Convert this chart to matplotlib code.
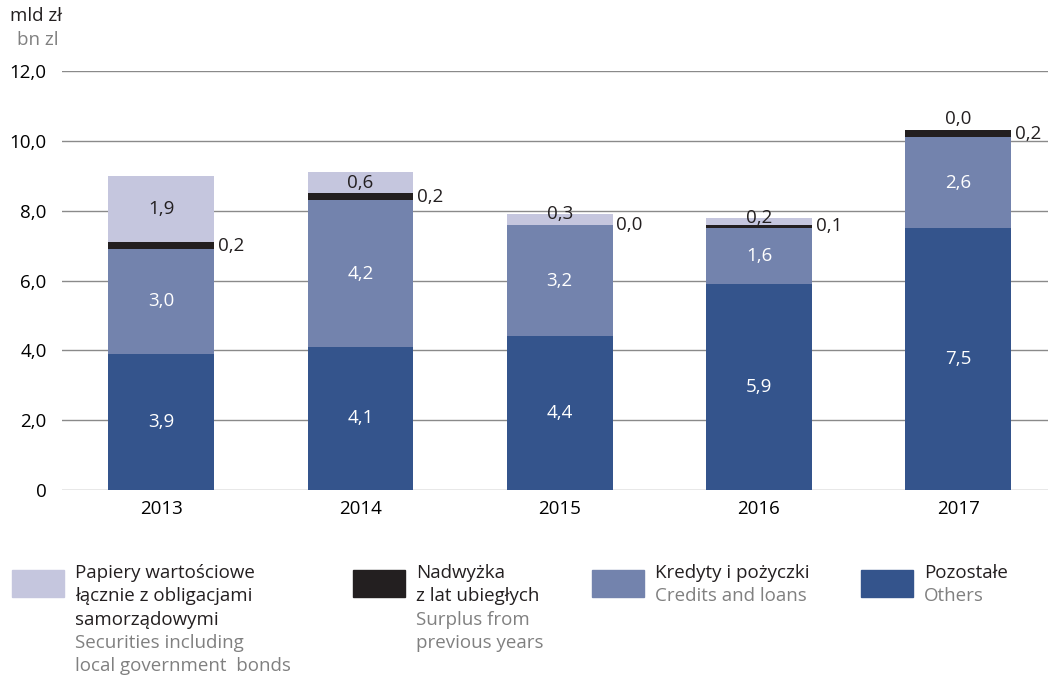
import matplotlib.pyplot as plt
import matplotlib.patches as mpatches
import numpy as np

plt.rcParams['font.family'] = ['Open Sans', 'DejaVu Sans']

years = ['2013', '2014', '2015', '2016', '2017']
others = [3.9, 4.1, 4.4, 5.9, 7.5]
credits = [3.0, 4.2, 3.2, 1.6, 2.6]
surplus = [0.2, 0.2, 0.0, 0.1, 0.2]
securities = [1.9, 0.6, 0.3, 0.2, 0.0]
yticks = [0, 2, 4, 6, 8, 10, 12]
ytick_labels = ['0', '2,0', '4,0', '6,0', '8,0', '10,0', '12,0']

c_sec = '#c5c6de'
c_sur = '#231f20'
c_cre = '#7383ad'
c_oth = '#34548c'
grey_txt = '#808080'

def fmt(v):
    return f'{v:.1f}'.replace('.', ',')

fig = plt.figure(figsize=(10.48, 6.78), dpi=100)
ax = fig.add_axes([62/1048, 1 - 490/678, 1 - 62/1048, 419/678])

x = np.arange(len(years))
w = 0.53
oth = np.array(others)
cre = np.array(credits)
sur = np.array(surplus)
sec = np.array(securities)

ax.bar(x, oth, w, color=c_oth, zorder=3)
ax.bar(x, cre, w, bottom=oth, color=c_cre, zorder=3)
ax.bar(x, sur, w, bottom=oth + cre, color=c_sur, zorder=3)
ax.bar(x, sec, w, bottom=oth + cre + sur, color=c_sec, zorder=3)

fs = 13.5
for i in range(len(years)):
    ax.text(x[i], oth[i] / 2, fmt(oth[i]), ha='center', va='center', color='white', fontsize=fs, zorder=4)
    ax.text(x[i], oth[i] + cre[i] / 2, fmt(cre[i]), ha='center', va='center', color='white', fontsize=fs, zorder=4)
    ax.text(x[i] + w / 2 + 0.02, oth[i] + cre[i] + sur[i] / 2, fmt(sur[i]), ha='left', va='center',
            color='#231f20', fontsize=fs, zorder=4)
    b = oth[i] + cre[i] + sur[i]
    if sec[i] >= 0.5:
        ax.text(x[i], b + sec[i] / 2, fmt(sec[i]), ha='center', va='center', color='#231f20', fontsize=fs, zorder=4)
    elif sec[i] > 0:
        ax.text(x[i], b + sec[i], fmt(sec[i]), ha='center', va='center', color='#231f20', fontsize=fs, zorder=4)
    else:
        ax.text(x[i], b + 0.08, fmt(sec[i]), ha='center', va='bottom', color='#231f20', fontsize=fs, zorder=4)

ax.set_xlim(-0.497, 4.45)
ax.set_ylim(0, 12)
ax.set_yticks(yticks)
ax.set_yticklabels(ytick_labels, fontsize=fs)
ax.set_xticks(x)
ax.set_xticklabels(years, fontsize=fs)
ax.tick_params(length=0)
ax.tick_params(axis='y', pad=11)
ax.tick_params(axis='x', pad=7)
ax.grid(axis='y', color='#8a8a8a', lw=1, zorder=0)
for s in ax.spines.values():
    s.set_visible(False)

fig.text(10/1048, 1 - 16/678, 'mld zł', fontsize=fs, va='center', ha='left', color='#231f20')
fig.text(17/1048, 1 - 40/678, 'bn zl', fontsize=fs, va='center', ha='left', color=grey_txt)

# legend
leg = [
    (12, c_sec, ['Papiery wartościowe', 'łącznie z obligacjami', 'samorządowymi'],
     ['Securities including', 'local government  bonds']),
    (353, c_sur, ['Nadwyżka', 'z lat ubiegłych'], ['Surplus from', 'previous years']),
    (592, c_cre, ['Kredyty i pożyczki'], ['Credits and loans']),
    (861, c_oth, ['Pozostałe'], ['Others']),
]
line_h = 23.3
for px, col, pl, en in leg:
    fig.patches.append(mpatches.Rectangle((px/1048, 1 - 597/678), 52/1048, 27/678,
                                          transform=fig.transFigure, color=col))
    tx = (px + 63) / 1048
    y0 = 573
    for k, t in enumerate(pl + en):
        fig.text(tx, 1 - (y0 + k * line_h) / 678, t, fontsize=fs, ha='left', va='center',
                 color='#231f20' if k < len(pl) else grey_txt)

fig.savefig('out.png', dpi=100)
